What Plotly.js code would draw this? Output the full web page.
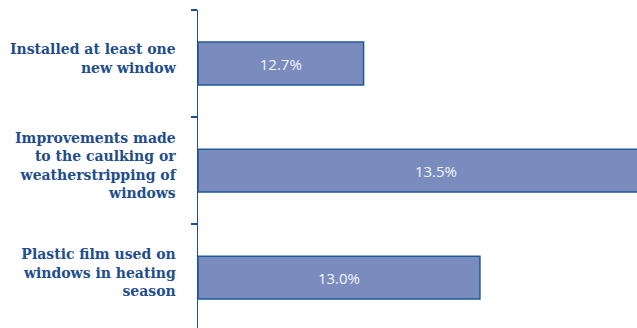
<!DOCTYPE html>
<html>
<head>
<meta charset="utf-8">
<script src="https://cdn.plot.ly/plotly-3.0.1.min.js"></script>
<style>html,body{margin:0;padding:0;background:#fff;}#chart{width:637px;height:328px;}</style>
</head>
<body>
<div id="chart"></div>
<script>
const categories = [
  "Installed at least one<br>new window",
  "Improvements made<br>to the caulking or<br>weatherstripping of<br>windows",
  "Plastic film used on<br>windows in heating<br>season"
];
const values = [12.7, 13.5, 13.0];
const valueLabels = ["12.7%", "13.5%", "13.0%"];

const xMin = 12.273, xMax = 13.405;

const trace = {
  type: 'bar',
  orientation: 'h',
  base: xMin,
  x: values.map(v => v - xMin),
  y: categories,
  text: valueLabels,
  texttemplate: '%{text}',
  textposition: 'inside',
  insidetextanchor: 'middle',
  textangle: 0,
  constraintext: 'none',
  textfont: {family: 'Open Sans, sans-serif', size: 15, color: '#f4f4f8'},
  marker: {color: '#7a8cbd', line: {color: '#1f5a9c', width: 1.5}},
  hoverinfo: 'none'
};

const layout = {
  width: 637, height: 328,
  margin: {l: 198, r: 0, t: 10, b: 0},
  paper_bgcolor: '#ffffff', plot_bgcolor: '#ffffff',
  showlegend: false,
  bargap: 0.6,
  xaxis: {range: [xMin, xMax], showgrid: false, zeroline: false, showline: false,
          showticklabels: false, ticks: ''},
  yaxis: {type: 'category', range: [2.47, -0.5], showgrid: false, zeroline: false,
          showline: true, linecolor: '#1f4e8c', linewidth: 1.5,
          ticks: 'outside', tickson: 'boundaries', ticklen: 6, tickcolor: '#1f4e8c', tickwidth: 1.5,
          ticklabelstandoff: 18, ticklabelshift: 5,
          tickfont: {family: 'DejaVu Serif, serif', size: 14, color: '#1f4e8c', weight: 'bold'}}
};

Plotly.newPlot('chart', [trace], layout, {staticPlot: true, displayModeBar: false});
</script>
</body>
</html>
